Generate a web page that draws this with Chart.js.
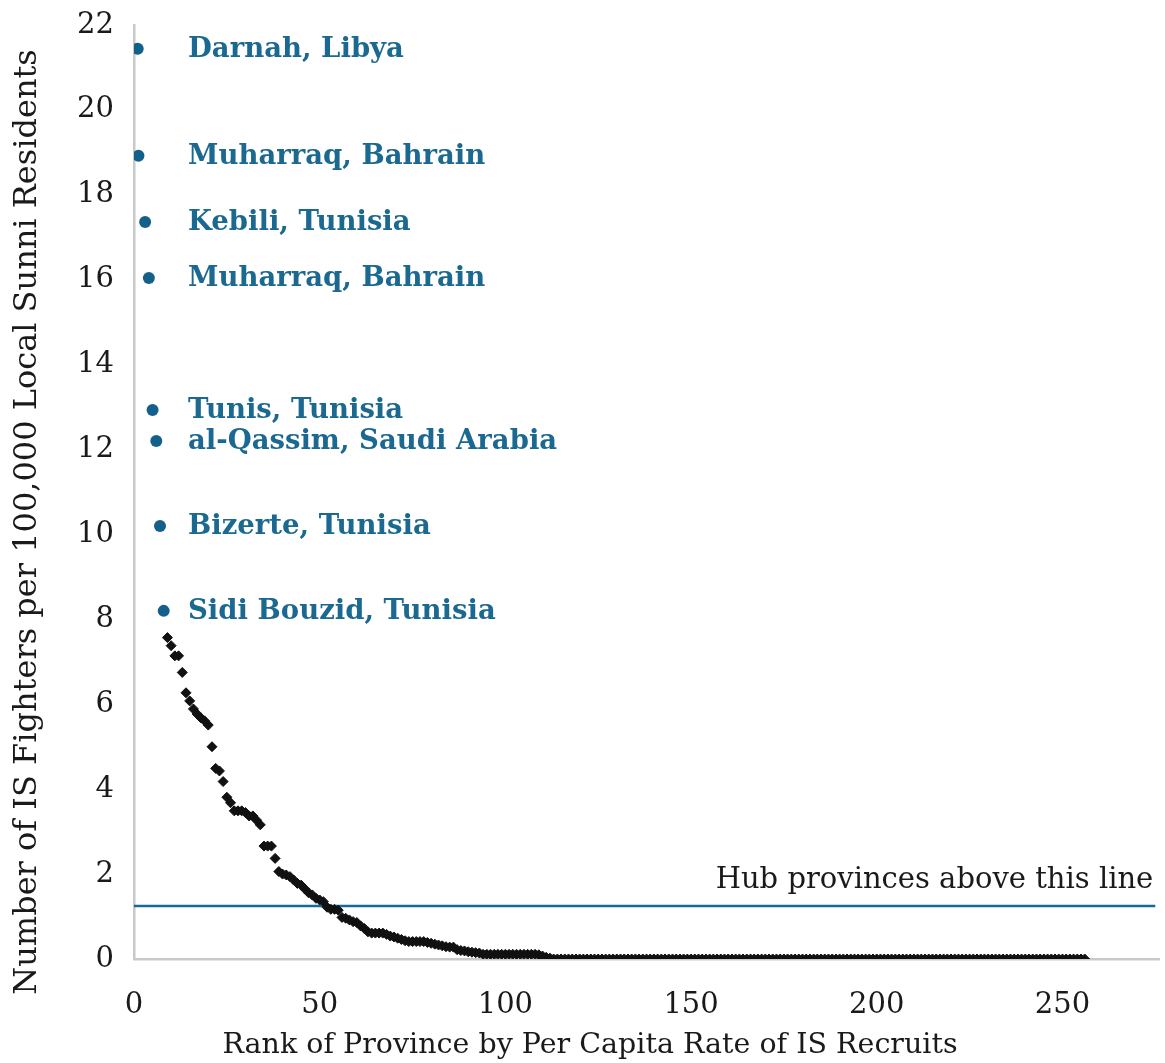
<!DOCTYPE html>
<html>
<head>
<meta charset="utf-8">
<script src="https://cdn.jsdelivr.net/npm/chart.js@4.4.1/dist/chart.umd.min.js"></script>
<style>
  html, body { margin: 0; padding: 0; background: #fff; }
  #wrap { width: 1165px; height: 1063px; }
</style>
</head>
<body>
<div id="wrap"><canvas id="rankChart" width="1165" height="1063"></canvas></div>
<script>
/* IS recruits per capita, ranked provinces */

// labelled hub provinces (rank 1-8)
const hubNames = ['Darnah, Libya', 'Muharraq, Bahrain', 'Kebili, Tunisia', 'Muharraq, Bahrain',
                  'Tunis, Tunisia', 'al-Qassim, Saudi Arabia', 'Bizerte, Tunisia', 'Sidi Bouzid, Tunisia'];
const hubRanks = [1, 1.2, 3, 4, 5, 6, 7, 8];
const hubValues = [21.44, 18.92, 17.36, 16.04, 12.93, 12.2, 10.2, 8.2];

// remaining provinces, rank 9 onward
const firstOtherRank = 9;
const otherValues = [
  7.57, 7.38, 7.14, 7.14, 6.75, 6.27, 6.08, 5.89, 5.77, 5.68, 5.61, 5.51, 5.00,
  4.49, 4.43, 4.18, 3.81, 3.68, 3.49, 3.49, 3.49, 3.45, 3.37, 3.37, 3.27, 3.16,
  2.66, 2.66, 2.66, 2.37, 2.06, 2.00, 1.98, 1.94, 1.86, 1.78, 1.74, 1.65, 1.56,
  1.51, 1.43, 1.39, 1.35, 1.22, 1.17, 1.17, 1.15, 0.98, 0.96, 0.92, 0.88, 0.86,
  0.78, 0.72, 0.64, 0.61, 0.61, 0.61, 0.61, 0.58, 0.54, 0.52, 0.49, 0.46, 0.43,
  0.41, 0.41, 0.41, 0.41, 0.41, 0.39, 0.37, 0.35, 0.33, 0.31, 0.29, 0.28, 0.28,
  0.22, 0.20, 0.19, 0.17, 0.16, 0.15, 0.14,
  0.11, 0.11, 0.11, 0.11, 0.11, 0.11, 0.11, 0.11, 0.11, 0.11, 0.11, 0.11, 0.11, 0.11, 0.11,
  0.10, 0.07, 0.04, 0.02,
  0, 0, 0, 0, 0, 0, 0, 0, 0, 0, 0, 0, 0, 0, 0, 0, 0, 0, 0, 0, 0, 0, 0, 0,
  0, 0, 0, 0, 0, 0, 0, 0, 0, 0, 0, 0, 0, 0, 0, 0, 0, 0, 0, 0, 0, 0, 0, 0,
  0, 0, 0, 0, 0, 0, 0, 0, 0, 0, 0, 0, 0, 0, 0, 0, 0, 0, 0, 0, 0, 0, 0, 0,
  0, 0, 0, 0, 0, 0, 0, 0, 0, 0, 0, 0, 0, 0, 0, 0, 0, 0, 0, 0, 0, 0, 0, 0,
  0, 0, 0, 0, 0, 0, 0, 0, 0, 0, 0, 0, 0, 0, 0, 0, 0, 0, 0, 0, 0, 0, 0, 0,
  0, 0, 0, 0, 0, 0, 0, 0, 0, 0, 0, 0, 0, 0, 0, 0, 0, 0, 0, 0, 0, 0, 0, 0
];

// hub threshold line
const hubThreshold = 1.25;
const hubLineEnd = 275;

const xTitle = 'Rank of Province by Per Capita Rate of IS Recruits';
const yTitle = 'Number of IS Fighters per 100,000 Local Sunni Residents';
const hubText = 'Hub provinces above this line';

const SERIF = '"DejaVu Serif", "Liberation Serif", serif';
const BLUE = '#13608a';
const LABEL_BLUE = '#1b6990';
const AXIS_GREY = '#c9c9c9';
const INK = '#1a1a1a';

const hubPoints = hubRanks.map((r, i) => ({ x: r, y: hubValues[i] }));
const otherPoints = otherValues.map((v, i) => ({ x: firstOtherRank + i, y: v }));

// threshold line, labels next to hub dots, titles centred on the whole canvas
const annotatePlugin = {
  id: 'annotate',
  beforeDatasetsDraw(chart) {
    const ctx = chart.ctx;
    const xs = chart.scales.x, ys = chart.scales.y;
    const yy = ys.getPixelForValue(hubThreshold);
    ctx.save();
    ctx.strokeStyle = '#18699a';
    ctx.lineWidth = 2.5;
    ctx.beginPath();
    ctx.moveTo(chart.chartArea.left, yy);
    ctx.lineTo(xs.getPixelForValue(hubLineEnd), yy);
    ctx.stroke();
    ctx.restore();
  },
  afterDatasetsDraw(chart) {
    const ctx = chart.ctx;
    const xs = chart.scales.x, ys = chart.scales.y;
    ctx.save();

    ctx.font = 'bold 27.5px ' + SERIF;
    ctx.fillStyle = LABEL_BLUE;
    ctx.textAlign = 'left';
    ctx.textBaseline = 'middle';
    const labelX = xs.getPixelForValue(0) + 54;
    hubNames.forEach((name, i) => {
      ctx.fillText(name, labelX, ys.getPixelForValue(hubValues[i]) + 1);
    });

    ctx.font = '29px ' + SERIF;
    ctx.fillStyle = INK;
    ctx.textAlign = 'right';
    ctx.textBaseline = 'alphabetic';
    ctx.fillText(hubText, xs.getPixelForValue(hubLineEnd) - 2, ys.getPixelForValue(hubThreshold) - 18);

    ctx.font = '28.5px ' + SERIF;
    ctx.textAlign = 'center';
    ctx.textBaseline = 'middle';
    ctx.fillText(xTitle, 590, 1046);

    ctx.font = '32px ' + SERIF;
    ctx.translate(28, 522);
    ctx.rotate(-Math.PI / 2);
    ctx.fillText(yTitle, 0, 0);
    ctx.restore();
  }
};

new Chart(document.getElementById('rankChart'), {
  type: 'scatter',
  data: {
    datasets: [
      {
        label: 'Other provinces',
        data: otherPoints,
        pointStyle: 'rectRot',
        pointRadius: 5,
        backgroundColor: '#111',
        borderColor: '#111',
        borderWidth: 1
      },
      {
        label: 'Hub provinces',
        data: hubPoints,
        pointStyle: 'circle',
        pointRadius: 6,
        backgroundColor: BLUE,
        borderColor: BLUE,
        borderWidth: 0
      }
    ]
  },
  options: {
    responsive: false,
    animation: false,
    layout: { padding: { top: 25, right: 0, left: 0, bottom: 0 } },
    plugins: {
      legend: { display: false },
      tooltip: { enabled: false }
    },
    scales: {
      x: {
        type: 'linear',
        min: 0,
        max: 276,
        grid: { display: false, drawTicks: false },
        border: { display: true, color: AXIS_GREY, width: 2.5 },
        ticks: {
          stepSize: 50,
          includeBounds: false,
          padding: 29,
          color: INK,
          font: { family: SERIF, size: 29 }
        },
        afterFit(scale) { scale.height = 104; scale.paddingRight = 0; scale.paddingLeft = 0; }
      },
      y: {
        min: 0,
        max: 22,
        grid: { display: false, drawTicks: false },
        border: { display: true, color: AXIS_GREY, width: 2.5 },
        ticks: {
          stepSize: 2,
          padding: 20,
          color: INK,
          font: { family: SERIF, size: 29 }
        },
        afterFit(scale) { scale.width = 134; scale.paddingTop = 0; scale.paddingBottom = 0; }
      }
    }
  },
  plugins: [annotatePlugin]
});
</script>
</body>
</html>
